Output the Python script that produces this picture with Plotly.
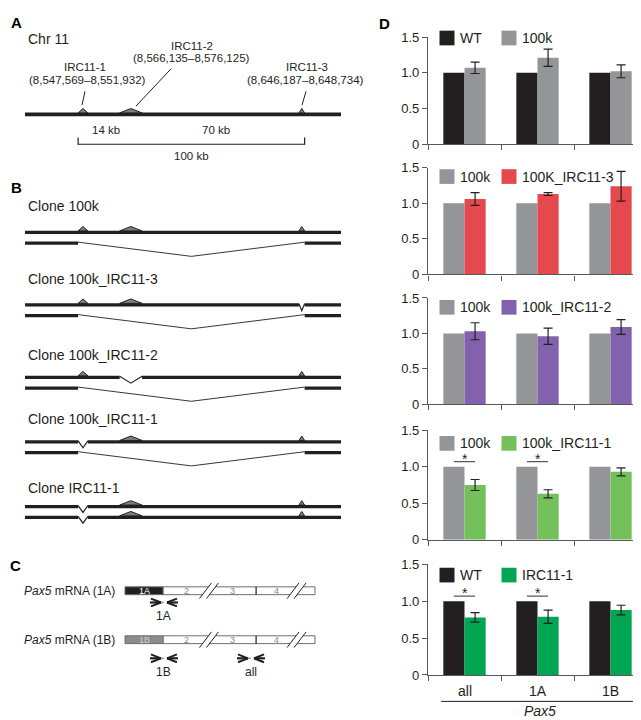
import plotly.graph_objects as go

# ====================== DATA ======================
# Panel D: relative Pax5 expression
PAX5_TARGETS = ["all", "1A", "1B"]
CTRL_NAMES = ["WT", "100k", "100k", "100k", "WT"]
TEST_NAMES = ["100k", "100K_IRC11-3", "100k_IRC11-2", "100k_IRC11-1", "IRC11-1"]
CTRL_VALUES = [1.0, 1.0, 1.0]
TEST_100K = [1.07, 1.21, 1.02]
ERR_100K = [0.08, 0.12, 0.09]
TEST_100K_IRC11_3 = [1.06, 1.13, 1.24]
ERR_100K_IRC11_3 = [0.09, 0.02, 0.21]
TEST_100K_IRC11_2 = [1.03, 0.96, 1.09]
ERR_100K_IRC11_2 = [0.12, 0.115, 0.105]
TEST_100K_IRC11_1 = [0.75, 0.63, 0.93]
ERR_100K_IRC11_1 = [0.075, 0.055, 0.055]
TEST_IRC11_1 = [0.78, 0.79, 0.88]
ERR_IRC11_1 = [0.065, 0.09, 0.065]
SIGNIFICANT = [[], [], [], [0, 1], [0, 1]]
SIG_LEVEL = 1.07
Y_TICK_VALUES = [0, 0.5, 1.0, 1.5]
Y_TICK_LABELS = ["0", "0.5", "1.0", "1.5"]

# Panel A/B: Chr 11 elements (bp)
IRC_NAMES = ["IRC11-1", "IRC11-2", "IRC11-3"]
IRC_START = [8547569, 8566135, 8646187]
IRC_END = [8551932, 8576125, 8648734]
IRC_COORD_LABELS = ["(8,547,569–8,551,932)", "(8,566,135–8,576,125)", "(8,646,187–8,648,734)"]
DIST_LABELS = ["14 kb", "70 kb"]
SPAN_LABEL = "100 kb"
CLONES = ["Clone 100k", "Clone 100k_IRC11-3", "Clone 100k_IRC11-2",
          "Clone 100k_IRC11-1", "Clone IRC11-1"]
ALLELE1_DEL = [[], ["IRC11-3"], ["IRC11-2"], ["IRC11-1"], ["IRC11-1"]]
ALLELE2_DEL = [["100k"], ["100k"], ["100k"], ["100k"], ["IRC11-1"]]

# Panel C: Pax5 mRNAs and primers
MRNA_NAMES = ["1A", "1B"]
EXON_LABELS = ["2", "3", "4"]
PRIMER_NAMES = ["1A", "1B", "all"]

# ====================== STYLE / LAYOUT ======================
W, H = 641, 720
FONT = "Liberation Sans, Arial, Helvetica, sans-serif"
DARK = "#231f20"
AXIS = "#58595b"
GRAY = "#939598"
CTRL_COLORS = [DARK, GRAY, GRAY, GRAY, DARK]
TEST_COLORS = [GRAY, "#e5494e", "#8262ad", "#74c05b", "#00a651"]
PANEL_TOP = [22.5, 156, 289, 424, 561]
PANEL_BOT = [132, 265, 397.5, 536, 674]
LEGEND_Y = [23.5, 165, 298.5, 437.5, 572]
PLOT_X0, PLOT_X1 = 420, 639
BAR_W = 0.29


def px(x):
    return x / W


def py(y):
    return 1 - y / H


fig = go.Figure()
shapes = []
annotations = []
axes = {}

tests = [TEST_100K, TEST_100K_IRC11_3, TEST_100K_IRC11_2, TEST_100K_IRC11_1, TEST_IRC11_1]
errs = [ERR_100K, ERR_100K_IRC11_3, ERR_100K_IRC11_2, ERR_100K_IRC11_1, ERR_IRC11_1]
xpos = list(range(len(PAX5_TARGETS)))

for i in range(5):
    k = i + 1
    xn = "x" if k == 1 else f"x{k}"
    yn = "y" if k == 1 else f"y{k}"
    fig.add_trace(go.Bar(
        x=xpos, y=CTRL_VALUES, width=BAR_W, offset=-BAR_W,
        marker=dict(color=CTRL_COLORS[i], line=dict(width=0)),
        name=CTRL_NAMES[i], xaxis=xn, yaxis=yn, showlegend=False, hoverinfo="skip"))
    fig.add_trace(go.Bar(
        x=xpos, y=tests[i], width=BAR_W, offset=0,
        marker=dict(color=TEST_COLORS[i], line=dict(width=0)),
        error_y=dict(type="data", array=errs[i], visible=True, color=DARK,
                     thickness=1.2, width=4.5),
        name=TEST_NAMES[i], xaxis=xn, yaxis=yn, showlegend=False, hoverinfo="skip"))
    xkey = "xaxis" if k == 1 else f"xaxis{k}"
    ykey = "yaxis" if k == 1 else f"yaxis{k}"
    axes[xkey] = dict(domain=[px(PLOT_X0), px(PLOT_X1)], range=[-0.5, 2.5], anchor=yn,
                      tickmode="array", tickvals=[-0.5, 0.5, 1.5, 2.5], showticklabels=False,
                      ticks="outside", ticklen=5, tickwidth=1.2, tickcolor=AXIS,
                      showline=True, linecolor=AXIS, linewidth=1.3,
                      showgrid=False, zeroline=False, fixedrange=True)
    axes[ykey] = dict(domain=[py(PANEL_BOT[i]), py(PANEL_TOP[i])], range=[0, 1.5], anchor=xn,
                      tickmode="array", tickvals=Y_TICK_VALUES, ticktext=Y_TICK_LABELS,
                      ticks="outside", ticklen=5, tickwidth=1.2, tickcolor=AXIS,
                      showline=True, linecolor=AXIS, linewidth=1.3,
                      showgrid=False, zeroline=False, fixedrange=True,
                      tickfont=dict(size=13, color=DARK, family=FONT))
    # custom legend
    yc = LEGEND_Y[i]
    for name, col, sx in [(CTRL_NAMES[i], CTRL_COLORS[i], 431.5),
                          (TEST_NAMES[i], TEST_COLORS[i], 493.5)]:
        shapes.append(dict(type="rect", xref="paper", yref="paper",
                           x0=px(sx), x1=px(sx + 15), y0=py(yc + 7.5), y1=py(yc - 7.5),
                           fillcolor=col, line=dict(width=0)))
        annotations.append(dict(xref="paper", yref="paper", x=px(sx + 18), y=py(yc),
                                text=name, xanchor="left", yanchor="middle", showarrow=False,
                                font=dict(size=14, color=DARK, family=FONT)))
    # significance
    for g in SIGNIFICANT[i]:
        shapes.append(dict(type="line", xref=xn, yref=yn, x0=g - BAR_W / 2, x1=g + BAR_W / 2,
                           y0=SIG_LEVEL, y1=SIG_LEVEL, line=dict(color=AXIS, width=1.3)))
        annotations.append(dict(xref=xn, yref=yn, x=g, y=SIG_LEVEL, text="*", showarrow=False,
                                yanchor="middle", yshift=3,
                                font=dict(size=14, color=DARK, family=FONT)))

# category labels under bottom panel
for g, lab in enumerate(PAX5_TARGETS):
    annotations.append(dict(xref="x5", yref="paper", x=g, y=py(690), text=lab, showarrow=False,
                            yanchor="middle", font=dict(size=14, color=DARK, family=FONT)))
shapes.append(dict(type="line", xref="x5", yref="paper", x0=-0.32, x1=2.40,
                   y0=py(701), y1=py(701), line=dict(color=DARK, width=1)))
annotations.append(dict(xref="x5", yref="paper", x=1.04, y=0, text="<i>Pax5</i>",
                        showarrow=False, yanchor="bottom", borderpad=0,
                        font=dict(size=14, color=DARK, family=FONT)))

# panel letters
for letter, lx, ly in [("A", 8, 8), ("B", 8, 176), ("C", 7.5, 562), ("D", 376, 8.5)]:
    annotations.append(dict(xref="paper", yref="paper", x=px(lx), y=py(ly), text=f"<b>{letter}</b>",
                            showarrow=False, xanchor="center", yanchor="middle",
                            font=dict(size=15, color="#000000", family=FONT)))

# ====================== LEFT SCHEMATICS ======================
SCALE = 2.2392            # px per kb
KB0 = 8516.26             # kb at left edge
axes["xaxis6"] = dict(domain=[0, px(340)], range=[KB0, KB0 + 340 / SCALE], visible=False,
                      anchor="y6", fixedrange=True)
axes["yaxis6"] = dict(domain=[0, 1], range=[H, 0], visible=False, anchor="x6", fixedrange=True)
U0, USCALE = 117, 1.9     # schematic mRNA units
axes["xaxis7"] = dict(domain=[0, px(340)], range=[-U0 / USCALE, (340 - U0) / USCALE],
                      visible=False, anchor="y6", overlaying="x6", fixedrange=True)
fig.add_trace(go.Scatter(x=[], y=[], xaxis="x6", yaxis="y6", showlegend=False, hoverinfo="skip"))
fig.add_trace(go.Scatter(x=[], y=[], xaxis="x7", yaxis="y6", showlegend=False, hoverinfo="skip"))


def kb_px(p):
    return KB0 + p / SCALE


irc_s = [v / 1000 for v in IRC_START]
irc_e = [v / 1000 for v in IRC_END]
irc_c = [(a + b) / 2 for a, b in zip(irc_s, irc_e)]
X_LEFT, X_RIGHT = kb_px(17), kb_px(333)
TRI_FILL = "#7f7f7f"


def hline(x0, x1, y, w, color=DARK, xref="x6"):
    shapes.append(dict(type="line", xref=xref, yref="y6", x0=x0, x1=x1, y0=y, y1=y,
                       line=dict(color=color, width=w)))


def tri(s, e, y):
    shapes.append(dict(type="path", xref="x6", yref="y6",
                       path=f"M{s},{y - 1.5} L{(s + e) / 2},{y - 6} L{e},{y - 1.5} Z",
                       fillcolor=TRI_FILL, line=dict(color=DARK, width=1)))


def vee(s, e, y, depth, w):
    shapes.append(dict(type="path", xref="x6", yref="y6",
                       path=f"M{s},{y} L{(s + e) / 2},{y + depth} L{e},{y}",
                       line=dict(color=DARK, width=w)))


def text(x, y, t, size, xref="x6", anchor="center", xshift=0):
    annotations.append(dict(xref=xref, yref="y6", x=x, y=y, text=t, showarrow=False,
                            xanchor=anchor, yanchor="middle", xshift=xshift,
                            font=dict(size=size, color=DARK, family=FONT)))


# ---- Panel A ----
text(kb_px(17.5), 25, "Chr 11", 14, anchor="left")
CHR_Y = 101.5
hline(X_LEFT, X_RIGHT, CHR_Y, 3.8)
for j in range(3):
    tri(irc_s[j], irc_e[j], CHR_Y)
NAME_POS = [(77, 53), (184, 32), (299, 53)]
COORD_POS = [(79.5, 66), (183, 44), (297, 66)]
LEADERS = [((77, 78), (74, 92)), ((163, 55), (128, 93)), ((298, 78), (294, 92))]
for j in range(3):
    text(kb_px(NAME_POS[j][0]), NAME_POS[j][1], IRC_NAMES[j], 11.5)
    text(kb_px(COORD_POS[j][0]), COORD_POS[j][1], IRC_COORD_LABELS[j], 11.5)
    (a, b), (c, d) = LEADERS[j]
    shapes.append(dict(type="line", xref="x6", yref="y6", x0=kb_px(a), y0=b, x1=kb_px(c), y1=d,
                       line=dict(color=DARK, width=1)))
text((irc_e[0] + irc_s[1]) / 2 + 1.2, 117, DIST_LABELS[0], 11.5)
text((irc_e[1] + irc_s[2]) / 2 - 2, 117, DIST_LABELS[1], 11.5)
hline(irc_s[0], irc_e[2], 132, 1.2)
for xb in (irc_s[0], irc_e[2]):
    shapes.append(dict(type="line", xref="x6", yref="y6", x0=xb, x1=xb, y0=125, y1=132.5,
                       line=dict(color=DARK, width=1.2)))
text((irc_s[0] + irc_e[2]) / 2, 144.5, SPAN_LABEL, 11.5)

# ---- Panel B ----
CLONE_LABEL_Y = [195.5, 270, 347, 413, 483]
ALLELE1_Y = [222, 296, 370, 436, 502]
ALLELE_GAP = 11


def draw_allele(y, dels):
    if "100k" in dels:
        s, e = irc_s[0], irc_e[2]
        hline(X_LEFT, s, y, 3.2)
        hline(e, X_RIGHT, y, 3.2)
        vee(s, e, y - 1, 14.5, 0.9)
        return
    gaps = [(irc_s[j], irc_e[j]) for j, n in enumerate(IRC_NAMES) if n in dels]
    pos = X_LEFT
    for s, e in gaps:
        hline(pos, s, y, 3.2)
        pos = e
    hline(pos, X_RIGHT, y, 3.2)
    for s, e in gaps:
        vee(s, e, y - 1, 7, 1.2)
    for j, n in enumerate(IRC_NAMES):
        if n not in dels:
            tri(irc_s[j], irc_e[j], y)


for r, clone in enumerate(CLONES):
    text(kb_px(17.5), CLONE_LABEL_Y[r], clone, 14, anchor="left")
    draw_allele(ALLELE1_Y[r], ALLELE1_DEL[r])
    draw_allele(ALLELE1_Y[r] + ALLELE_GAP, ALLELE2_DEL[r])

# ---- Panel C ----
MRNA_Y = [588, 638]
EXON1_FILL = [DARK, "#8b8b8b"]
EXON1_TEXT = ["#ffffff", "#cfcfcf"]
EXON1_END, EXON34, BOX_END = 20, 69, 100
BREAKS = [44.2, 90.3]
EXON_TEXT_U = [32.6, 56.8, 79.5]
BOX_LINE = "#6d6e71"


def u(p_off):
    return p_off / USCALE


for m, name in enumerate(MRNA_NAMES):
    y = MRNA_Y[m]
    shapes.append(dict(type="rect", xref="x7", yref="y6", x0=EXON1_END, x1=BOX_END,
                       y0=y - 4, y1=y + 4, fillcolor="#ffffff", line=dict(color=BOX_LINE, width=1)))
    shapes.append(dict(type="rect", xref="x7", yref="y6", x0=0, x1=EXON1_END,
                       y0=y - 4, y1=y + 4, fillcolor=EXON1_FILL[m], line=dict(color=BOX_LINE, width=1)))
    shapes.append(dict(type="line", xref="x7", yref="y6", x0=EXON34, x1=EXON34,
                       y0=y - 4, y1=y + 4, line=dict(color=DARK, width=1.2)))
    for bc in BREAKS:
        d, hx, hy = u(3.5), u(6.0), 8
        shapes.append(dict(type="path", xref="x7", yref="y6",
                           path=(f"M{bc - d - hx},{y + hy} L{bc - d + hx},{y - hy} "
                                 f"L{bc + d + hx},{y - hy} L{bc + d - hx},{y + hy} Z"),
                           fillcolor="#ffffff", line=dict(width=0)))
        for sgn in (-1, 1):
            shapes.append(dict(type="line", xref="x7", yref="y6",
                               x0=bc + sgn * d - hx, y0=y + hy, x1=bc + sgn * d + hx, y1=y - hy,
                               line=dict(color=DARK, width=1)))
    annotations.append(dict(xref="x7", yref="y6", x=EXON1_END / 2, y=y, text=name, showarrow=False,
                            yanchor="middle", font=dict(size=9, color=EXON1_TEXT[m], family=FONT)))
    for t, ux in zip(EXON_LABELS, EXON_TEXT_U):
        annotations.append(dict(xref="x7", yref="y6", x=ux, y=y, text=t, showarrow=False,
                                yanchor="middle", font=dict(size=9, color="#8a8a8a", family=FONT)))
    text(px(109), y, f"<i>Pax5</i> mRNA ({name})", 12, xref="paper", anchor="right")

PRIMER_CENTER = [20.5, 20.5, 66.3]
PRIMER_Y = [600, 657, 657]
for p, name in enumerate(PRIMER_NAMES):
    c, y = PRIMER_CENTER[p], PRIMER_Y[p]
    for sgn in (-1, 1):
        tip = c + sgn * u(3)
        end = c + sgn * u(14)
        shapes.append(dict(type="line", xref="x7", yref="y6", x0=end, x1=tip, y0=y, y1=y,
                           line=dict(color=DARK, width=2.2)))
        for dy in (-4, 4):
            shapes.append(dict(type="line", xref="x7", yref="y6", x0=c + sgn * u(13), y0=y + dy,
                               x1=tip, y1=y, line=dict(color=DARK, width=2)))
    shapes.append(dict(type="line", xref="x7", yref="y6", x0=c - u(3), x1=c + u(3), y0=y, y1=y,
                       line=dict(color="#9a9a9a", width=1.5, dash="dot")))
    annotations.append(dict(xref="x7", yref="y6", x=c, y=y + 13.5, text=name, showarrow=False,
                            yanchor="middle", font=dict(size=12, color=DARK, family=FONT)))

fig.update_layout(
    width=W, height=H, margin=dict(l=0, r=0, t=0, b=0),
    paper_bgcolor="#ffffff", plot_bgcolor="rgba(0,0,0,0)",
    font=dict(family=FONT, color=DARK),
    showlegend=False, barmode="overlay",
    shapes=shapes, annotations=annotations, **axes)

fig.write_html("out.html")
